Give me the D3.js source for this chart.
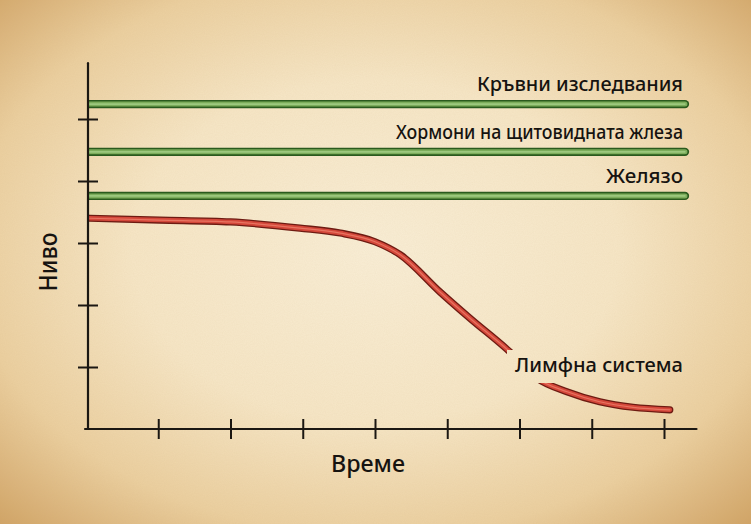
<!DOCTYPE html>
<html>
<head>
<meta charset="utf-8">
<script src="https://cdn.jsdelivr.net/npm/d3@7"></script>
<style>
  html, body { margin: 0; padding: 0; background: #f3e2c0; }
  svg { display: block; }
  text { font-family: "Noto Sans", "Open Sans", sans-serif; fill: #161310; }
</style>
</head>
<body>
<svg width="751" height="524"></svg>
<script>
// data
const xTicks = [1, 2, 3, 4, 5, 6, 7, 8];
const yTicks = [1, 2, 3, 4, 5];

const flatNames = ['Кръвни изследвания', 'Хормони на щитовидната жлеза', 'Желязо'];
const flatLevels = [5.24, 4.47, 3.76];
const flatStart = 0.03;
const flatEnd = 8.29;

const lymphName = 'Лимфна система';
const lymphTime = [0.03, 1.02, 2.0, 2.96, 3.52, 4.0, 4.35, 4.9, 5.31, 5.87, 6.24, 6.66, 7.11, 7.57, 8.08];
const lymphLevel = [3.40, 3.37, 3.34, 3.24, 3.16, 3.02, 2.81, 2.21, 1.79, 1.24, 0.82, 0.60, 0.44, 0.35, 0.31];

const xLabel = 'Време';
const yLabel = 'Ниво';

const svg = d3.select('svg');
const W = 751, H = 524;

const x = d3.scaleLinear().domain([0, 8]).range([86, 664]);
const y = d3.scaleLinear().domain([0, 6]).range([429, 57]);

// parchment background
const defs = svg.append('defs');
const bg = defs.append('radialGradient').attr('id', 'paper')
    .attr('cx', '50%').attr('cy', '48%').attr('r', '72%');
bg.append('stop').attr('offset', '0%').attr('stop-color', '#f9eed6');
bg.append('stop').attr('offset', '45%').attr('stop-color', '#f6e6c6');
bg.append('stop').attr('offset', '75%').attr('stop-color', '#ebcf9f');
bg.append('stop').attr('offset', '100%').attr('stop-color', '#d1a466');

const noise = defs.append('filter').attr('id', 'grain')
    .attr('x', 0).attr('y', 0).attr('width', '100%').attr('height', '100%');
noise.append('feTurbulence').attr('type', 'fractalNoise')
    .attr('baseFrequency', 0.9).attr('numOctaves', 2).attr('seed', 3);
noise.append('feColorMatrix').attr('type', 'matrix')
    .attr('values', '0 0 0 0 0.55  0 0 0 0 0.38  0 0 0 0 0.18  0 0 0 0.10 0');

svg.append('rect').attr('width', W).attr('height', H).attr('fill', 'url(#paper)');
svg.append('rect').attr('width', W).attr('height', H).attr('filter', 'url(#grain)');

// keep lines right of the y axis
defs.append('clipPath').attr('id', 'plotclip')
    .append('rect').attr('x', x(0) + 2).attr('y', 0).attr('width', W).attr('height', H);

const line = d3.line()
    .x(d => x(d[0]))
    .y(d => y(d[1]))
    .curve(d3.curveMonotoneX);

// flat green series
const flat = svg.append('g').attr('clip-path', 'url(#plotclip)');
const wantW = [206, 287, 77];
flatLevels.forEach((v, i) => {
    const pts = [[flatStart, v], [flatEnd, v]];
    const g = flat.append('g');
    g.append('path').attr('d', line(pts)).attr('fill', 'none')
        .attr('stroke', '#2a5a1d').attr('stroke-width', 8.4).attr('stroke-linecap', 'round');
    g.append('path').attr('d', line(pts)).attr('fill', 'none')
        .attr('stroke', '#7cad5b').attr('stroke-width', 5).attr('stroke-linecap', 'round');
    g.append('path').attr('d', line(pts)).attr('fill', 'none')
        .attr('stroke', '#9cc87e').attr('stroke-width', 1.6).attr('stroke-linecap', 'round');

    svg.append('text')
        .attr('x', 683).attr('y', y(v) - 13)
        .attr('text-anchor', 'end')
        .attr('font-size', 20)
        .attr('font-weight', 500)
        .attr('textLength', wantW[i]).attr('lengthAdjust', 'spacingAndGlyphs')
        .text(flatNames[i]);
});

// lymph label, and a gap in its line around it
const lymphText = svg.append('text')
    .attr('x', 683).attr('y', 372)
    .attr('text-anchor', 'end')
    .attr('font-size', 20)
    .attr('font-weight', 500)
    .attr('textLength', 168).attr('lengthAdjust', 'spacingAndGlyphs')
    .text(lymphName);
const bb = lymphText.node().getBBox();

const mask = defs.append('mask').attr('id', 'gap')
    .attr('maskUnits', 'userSpaceOnUse').attr('x', 0).attr('y', 0).attr('width', W).attr('height', H);
mask.append('rect').attr('width', W).attr('height', H).attr('fill', 'white');
mask.append('rect')
    .attr('x', bb.x - 8).attr('y', bb.y - 1)
    .attr('width', bb.width + 16).attr('height', bb.height + 6)
    .attr('fill', 'black');

const lymphPts = lymphTime.map((t, i) => [t, lymphLevel[i]]);
const red = svg.append('g').attr('clip-path', 'url(#plotclip)')
    .append('g').attr('mask', 'url(#gap)');
red.append('path').attr('d', line(lymphPts)).attr('fill', 'none')
    .attr('stroke', '#6e1b12').attr('stroke-width', 7.2).attr('stroke-linecap', 'round');
red.append('path').attr('d', line(lymphPts)).attr('fill', 'none')
    .attr('stroke', '#d4473a').attr('stroke-width', 4.6).attr('stroke-linecap', 'round');
red.append('path').attr('d', line(lymphPts)).attr('fill', 'none')
    .attr('stroke', '#e77461').attr('stroke-width', 1.2).attr('stroke-linecap', 'round');

// axes
const axisColor = '#1b1712';

const xAxis = svg.append('g')
    .attr('transform', `translate(0,${y(0)})`)
    .call(d3.axisBottom(x).tickValues(xTicks).tickSize(10).tickFormat(''));
xAxis.select('.domain').remove();
xAxis.selectAll('.tick line').attr('y1', -10).attr('y2', 10)
    .attr('stroke', axisColor).attr('stroke-width', 2);

const yAxis = svg.append('g')
    .attr('transform', `translate(${x(0) + 2},0)`)
    .call(d3.axisLeft(y).tickValues(yTicks).tickSize(10).tickFormat(''));
yAxis.select('.domain').remove();
yAxis.selectAll('.tick line').attr('x1', 10).attr('x2', -10)
    .attr('stroke', axisColor).attr('stroke-width', 2);

svg.append('line')
    .attr('x1', x(0) - 1).attr('x2', x(8.45))
    .attr('y1', y(0)).attr('y2', y(0))
    .attr('stroke', axisColor).attr('stroke-width', 2.2).attr('stroke-linecap', 'round');
svg.append('line')
    .attr('x1', x(0) + 2).attr('x2', x(0) + 2)
    .attr('y1', y(0)).attr('y2', y(5.9))
    .attr('stroke', axisColor).attr('stroke-width', 2.2).attr('stroke-linecap', 'round');

// axis titles
svg.append('text')
    .attr('x', 368).attr('y', 472)
    .attr('text-anchor', 'middle')
    .attr('font-size', 24)
    .attr('font-weight', 500)
    .attr('textLength', 74).attr('lengthAdjust', 'spacingAndGlyphs')
    .text(xLabel);

svg.append('text')
    .attr('transform', 'translate(57,262) rotate(-90)')
    .attr('text-anchor', 'middle')
    .attr('font-size', 26)
    .attr('font-weight', 500)
    .attr('textLength', 59).attr('lengthAdjust', 'spacingAndGlyphs')
    .text(yLabel);
</script>
</body>
</html>
